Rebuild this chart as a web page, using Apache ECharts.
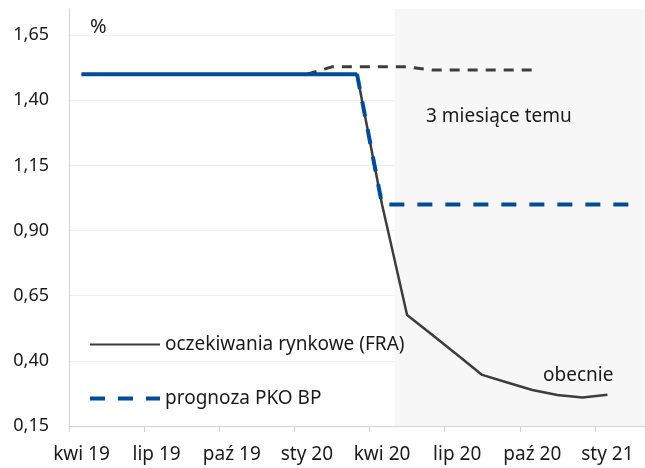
<!DOCTYPE html>
<html>
<head>
<meta charset="utf-8">
<script src="https://cdn.jsdelivr.net/npm/echarts@6/dist/echarts.min.js"></script>
<style>
  html, body { margin: 0; padding: 0; background: #fff; }
  #chart { width: 645px; height: 468px; }
</style>
</head>
<body>
<div id="chart"></div>
<script>
// miesiące (oś X)
var months = ['kwi 19', 'maj 19', 'cze 19', 'lip 19', 'sie 19', 'wrz 19', 'paź 19', 'lis 19', 'gru 19',
  'sty 20', 'lut 20', 'mar 20', 'kwi 20', 'maj 20', 'cze 20', 'lip 20', 'sie 20', 'wrz 20', 'paź 20',
  'lis 20', 'gru 20', 'sty 21', 'lut 21'];

// oczekiwania rynkowe (FRA) - obecnie
var fraNow = [1.50, 1.50, 1.50, 1.50, 1.50, 1.50, 1.50, 1.50, 1.50, 1.50, 1.50, 1.50,
  1.00, 0.576, 0.50, 0.423, 0.346, 0.317, 0.288, 0.269, 0.259, 0.27, null];

// oczekiwania rynkowe 3 miesiące temu
var fra3mAgo = [null, null, null, null, null, null, null, null, null, 1.50, 1.528, 1.528,
  1.528, 1.528, 1.516, 1.516, 1.516, 1.516, 1.516, null, null, null, null];

// stopa referencyjna - historia (linia ciągła)
var rateHist = [1.50, 1.50, 1.50, 1.50, 1.50, 1.50, 1.50, 1.50, 1.50, 1.50, 1.50, 1.50,
  null, null, null, null, null, null, null, null, null, null, null];

// prognoza PKO BP (linia przerywana)
var pkoForecast = [null, null, null, null, null, null, null, null, null, null, null, 1.50,
  1.00, 1.00, 1.00, 1.00, 1.00, 1.00, 1.00, 1.00, 1.00, 1.00, 1.00];

// cieniowanie od maj 20 do końca
var shadeFrom = months.indexOf('maj 20');
var shadeTo = months.length;

var FONT = 'Noto Sans';
var BLUE = '#004c97';
var DARK = '#3d3d3d';

var myChart = echarts.init(document.getElementById('chart'));

var option = {
  animation: false,
  textStyle: { fontFamily: FONT },
  title: {
    text: '%',
    left: 85,
    top: 12,
    textStyle: { fontFamily: FONT, fontSize: 20, fontWeight: 'normal', color: '#1a1a1a' }
  },
  grid: { left: 69, right: -3, top: 9, bottom: 42, containLabel: false },
  legend: {
    orient: 'vertical',
    left: 88,
    top: 335,
    padding: 0,
    itemWidth: 70,
    itemHeight: 18,
    itemGap: 35,
    itemStyle: { opacity: 0 },
    data: [
      { name: 'oczekiwania rynkowe (FRA)' },
      { name: 'prognoza PKO BP', lineStyle: { width: 4, type: [15, 13] } }
    ],
    textStyle: { fontFamily: FONT, fontSize: 19, color: '#1a1a1a', padding: [0, 0, 0, 0] }
  },
  xAxis: [{
    type: 'category',
    data: months,
    boundaryGap: true,
    axisLine: { show: true, lineStyle: { color: '#d4d4d4', width: 1 } },
    axisTick: { show: true, interval: 2, length: 6, lineStyle: { color: '#d4d4d4' } },
    axisLabel: { interval: 2, margin: 19, fontFamily: FONT, fontSize: 19, color: '#1a1a1a' },
    splitLine: { show: false }
  }, {
    type: 'value',
    min: 0,
    max: months.length,
    show: false
  }],
  yAxis: {
    type: 'value',
    min: 0.15,
    max: 1.75,
    interval: 0.25,
    axisLine: { show: true, lineStyle: { color: '#d4d4d4', width: 1 } },
    axisTick: { show: false },
    axisLabel: {
      margin: 20,
      showMaxLabel: false,
      fontFamily: FONT,
      fontSize: 18,
      color: '#1a1a1a',
      formatter: function (v) { return v.toFixed(2).replace('.', ','); }
    },
    splitLine: { show: true, showMaxLine: false, lineStyle: { color: '#f0f0f0', width: 1 } }
  },
  graphic: [
    {
      type: 'text', left: 426, top: 107, z: 100,
      style: { text: '3 miesiące temu', font: '19px "Noto Sans"', fill: '#1a1a1a' }
    },
    {
      type: 'text', left: 543, top: 366, z: 100,
      style: { text: 'obecnie', font: '19px "Noto Sans"', fill: '#1a1a1a' }
    }
  ],
  series: [
    {
      name: 'shade',
      type: 'line',
      xAxisIndex: 1,
      data: [],
      silent: true,
      markArea: {
        silent: true,
        itemStyle: { color: '#f7f7f7' },
        data: [[{ xAxis: shadeFrom }, { xAxis: shadeTo }]]
      }
    },
    {
      name: '3 miesiące temu',
      type: 'line',
      data: fra3mAgo,
      symbol: 'none',
      lineStyle: { color: DARK, width: 3, type: [10, 8] },
      itemStyle: { color: DARK },
      z: 2
    },
    {
      name: 'oczekiwania rynkowe (FRA)',
      type: 'line',
      data: fraNow,
      symbol: 'none',
      lineStyle: { color: DARK, width: 2.5 },
      itemStyle: { color: DARK },
      z: 3
    },
    {
      name: 'historia',
      type: 'line',
      data: rateHist,
      symbol: 'none',
      lineStyle: { color: BLUE, width: 4 },
      itemStyle: { color: BLUE },
      z: 4
    },
    {
      name: 'prognoza PKO BP',
      type: 'line',
      data: pkoForecast,
      symbol: 'none',
      lineStyle: { color: BLUE, width: 4, type: [15, 13] },
      itemStyle: { color: BLUE },
      z: 4
    }
  ]
};

myChart.setOption(option);
</script>
</body>
</html>
